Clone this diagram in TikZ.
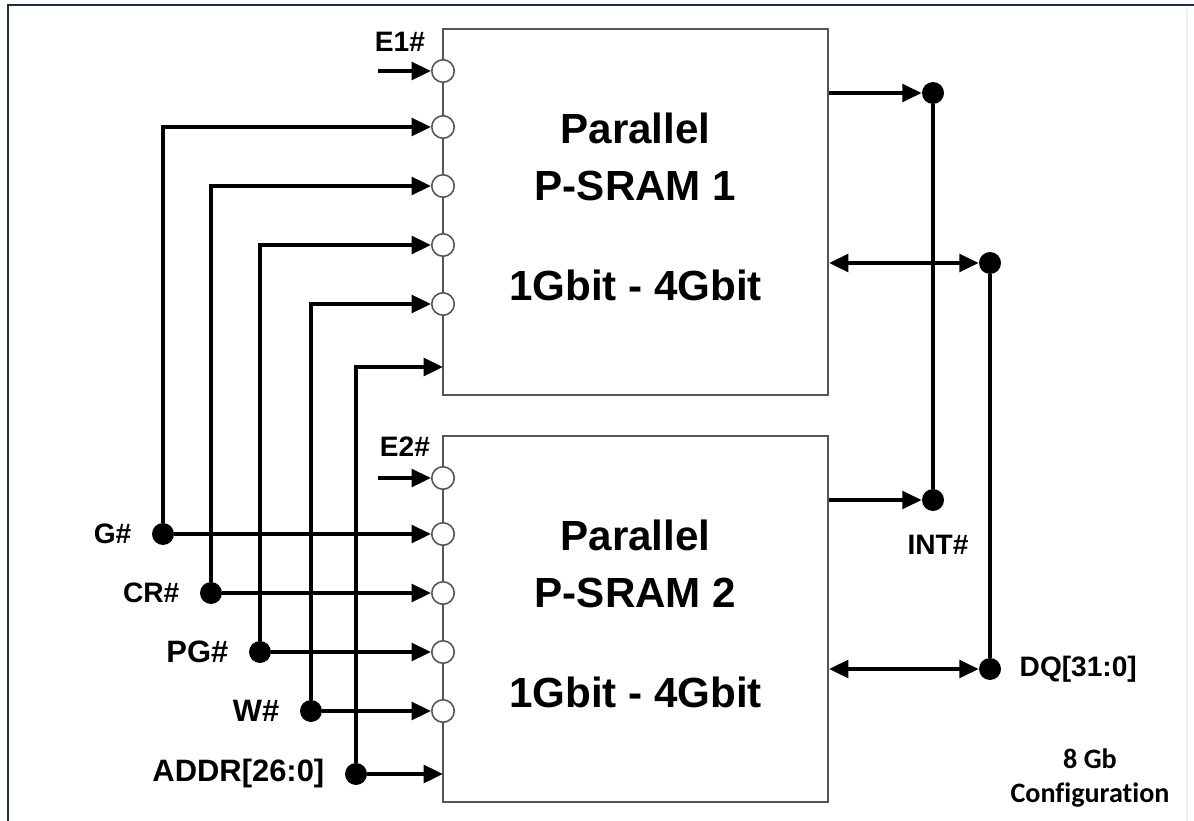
\documentclass[tikz,border=0pt]{standalone}
\usepackage{fontspec}
\setmainfont{Liberation Sans}
\newfontfamily\calibfont[Ligatures={NoCommon}]{Carlito}
\usetikzlibrary{arrows.meta,positioning}
\definecolor{framecol}{HTML}{1F2E48}
\definecolor{boxcol}{HTML}{555555}
\tikzset{
  >={Triangle[length=11pt,width=10pt]},
  chip/.style={draw=boxcol, line width=1.2pt, minimum width=7.7cm, minimum height=7.32cm},
  pin/.style={circle, draw=boxcol, fill=white, line width=0.9pt, minimum size=0.45cm, inner sep=0},
  dot/.style={circle, fill=black, minimum size=0.44cm, inner sep=0},
  wire/.style={line width=2.2pt, ->},
  dwire/.style={line width=2.2pt, <->},
  bus/.style={line width=2.2pt},
  title/.style={align=center, font=\bfseries\fontsize{24}{32}\selectfont},
  sig/.style={font=\bfseries\fontsize{16}{18}\selectfont, inner sep=0},
  bigsig/.style={font=\bfseries\fontsize{17.6}{20}\selectfont, inner sep=0},
}
\begin{document}
\begin{tikzpicture}[x=0.02cm,y=-0.02cm]
  \useasboundingbox (0,0) rectangle (1194,821);
  % frame
  \draw[framecol, line width=1.7pt] (8,821) -- (8,5) -- (1194,5);
  \draw[black!6, line width=0.8pt] (1187,7) -- (1187,821);

  % memory chips
  \node[chip] (m1) at (635.5,212) {};
  \node[chip] (m2) at (635.5,619) {};
  \node[title] (t1) at ([yshift=0.1cm]m1.center) {Parallel\\P-SRAM 1\\[25pt]1Gbit - 4Gbit};
  \node[title] (t2) at ([yshift=0.1cm]m2.center) {Parallel\\P-SRAM 2\\[25pt]1Gbit - 4Gbit};

  % active-low pins
  \foreach \n/\y in {e/71,g/127,cr/186,pg/245,w/304}{
    \node[pin] (\n1) at (443,\y) {};
    \node[pin] (\n2) at (443,\y+407) {};
  }
  \coordinate (a1) at (443,367);
  \coordinate (a2) at (443,774);

  % chip enables
  \coordinate (e1in) at (378,71);
  \coordinate (e2in) at (378,478);
  \draw[wire] (e1in) -- (e1);
  \draw[wire] (e2in) -- (e2);
  \node[sig] (e1lab) at (400,42) {E1\#};
  \node[sig] (e2lab) at (405,447) {E2\#};

  % shared inputs
  \node[dot] (g) at (163,534) {};
  \node[dot] (cr) at (211,593) {};
  \node[dot] (pg) at (260,652) {};
  \node[dot] (w) at (311,711) {};
  \node[dot] (addr) at (356,774) {};
  \node[sig, left=0.4cm of g] (glab) {G\#};
  \node[sig, left=0.4cm of cr] (crlab) {CR\#};
  \node[bigsig, left=0.4cm of pg] (pglab) {PG\#};
  \node[bigsig, left=0.4cm of w] (wlab) {W\#};
  \node[bigsig, left=0.4cm of addr] (addrlab) {ADDR[26:0]};
  \foreach \s in {g,cr,pg,w}{
    \draw[wire] (\s) |- (\s1);
    \draw[wire] (\s) -- (\s2);
  }
  \draw[wire] (addr) |- (a1);
  \draw[wire] (addr) -- (a2);

  % outputs
  \node[dot] (int1) at (933,93) {};
  \node[dot] (int2) at (933,500) {};
  \node[dot] (dq1) at (990,263) {};
  \node[dot] (dq2) at (990,669) {};
  \draw[bus] (int1) -- (int2);
  \draw[bus] (dq1) -- (dq2);
  \draw[wire] (m1.east |- int1) -- (int1);
  \draw[wire] (m2.east |- int2) -- (int2);
  \draw[dwire] (m1.east |- dq1) -- (dq1);
  \draw[dwire] (m2.east |- dq2) -- (dq2);
  \node[sig] (intlab) at (938,545) {INT\#};
  \node[sig, right=0.36cm of dq2] (dqlab) {DQ[31:0]};

  \node[font=\calibfont\bfseries\fontsize{16}{19.8}\selectfont, align=center] (cfg) at (1090,778) {8 Gb\\Configuration};
\end{tikzpicture}
\end{document}
